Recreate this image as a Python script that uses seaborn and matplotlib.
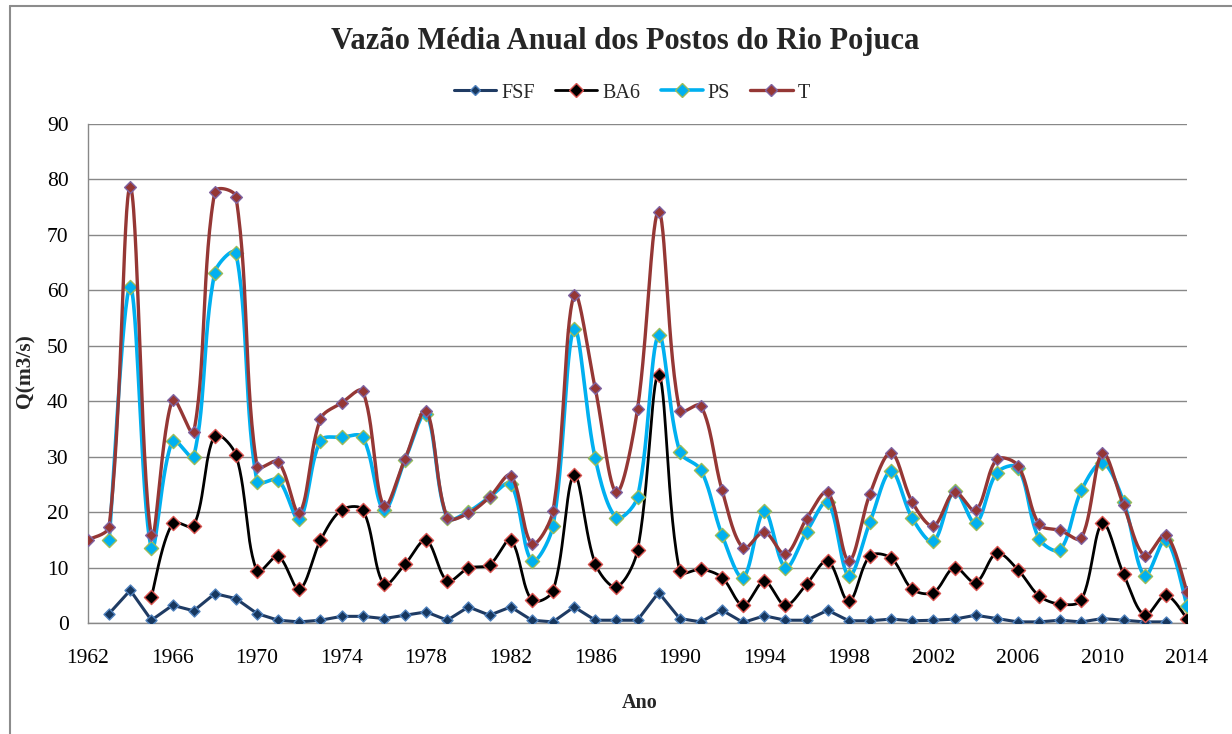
import numpy as np
import pandas as pd
import matplotlib
matplotlib.use("Agg")
import matplotlib.pyplot as plt
from matplotlib.lines import Line2D
import seaborn as sns

# ---- data -------------------------------------------------------------
years = list(range(1962, 2015))
nan = np.nan

fsf = [nan, 1.7, 5.9, 0.5, 3.2, 2.2, 5.3, 4.4, 1.7, 0.5,
       0.2, 0.5, 1.2, 1.2, 0.8, 1.4, 2.0, 0.5, 2.9, 1.4,
       2.9, 0.5, 0.2, 2.9, 0.5, 0.5, 0.5, 5.5, 0.8, 0.2,
       2.3, 0.1, 1.3, 0.5, 0.5, 2.3, 0.4, 0.4, 0.7, 0.4,
       0.5, 0.7, 1.4, 0.8, 0.2, 0.2, 0.5, 0.2, 0.8, 0.5,
       0.2, 0.2, nan]

ba6 = [nan, nan, nan, 4.7, 18.0, 17.5, 33.8, 30.3, 9.3, 12.0,
       6.1, 14.9, 20.4, 20.4, 7.0, 10.6, 14.9, 7.6, 9.9, 10.5,
       14.9, 4.1, 5.8, 26.7, 10.7, 6.5, 13.1, 44.8, 9.3, 9.7,
       8.2, 3.2, 7.5, 3.2, 7.0, 11.2, 3.9, 12.1, 11.7, 6.1,
       5.5, 10.0, 7.3, 12.6, 9.6, 4.9, 3.4, 4.1, 18.0, 8.8,
       1.4, 5.0, 0.8]

ps = [nan, 14.9, 60.6, 13.5, 32.9, 30.0, 63.2, 66.7, 25.5, 25.8,
      18.7, 32.9, 33.5, 33.5, 20.4, 29.4, 37.7, 18.9, 20.1, 22.7,
      25.1, 11.2, 17.5, 53.0, 29.7, 19.0, 22.7, 51.9, 30.9, 27.6,
      15.9, 8.2, 20.2, 10.0, 16.4, 21.8, 8.5, 18.2, 27.4, 18.9,
      14.7, 23.8, 18.0, 27.1, 28.0, 15.2, 13.2, 23.9, 28.9, 21.9,
      8.5, 15.0, 3.1]

t = [15.0, 17.4, 78.6, 15.8, 40.3, 34.4, 77.8, 76.9, 28.2, 29.1,
     19.9, 36.8, 39.7, 41.8, 21.1, 29.6, 38.3, 19.0, 19.8, 22.7,
     26.6, 14.3, 20.2, 59.2, 42.3, 23.6, 38.6, 74.2, 38.3, 39.2,
     24.0, 13.5, 16.4, 12.4, 18.8, 23.6, 11.2, 23.3, 30.7, 21.8,
     17.5, 23.6, 20.3, 29.5, 28.4, 17.8, 16.7, 15.3, 30.6, 21.2,
     12.1, 15.9, 5.6]

series_names = ["FSF", "BA6", "PS", "T"]
x_ticks = list(range(1962, 2015, 4))
y_ticks = list(range(0, 91, 10))

# ---- styles -----------------------------------------------------------
styles = {
    "FSF": dict(line="#1F3B63", face="#17375E", edge="#4F81BD", lw=2.2, ms=5.6, smooth=False),
    "BA6": dict(line="#000000", face="#000000", edge="#D9534F", lw=2.0, ms=7.2, smooth=True),
    "PS":  dict(line="#00B0F0", face="#00B0F0", edge="#9BBB59", lw=2.6, ms=7.2, smooth=True),
    "T":   dict(line="#953735", face="#953735", edge="#8064A2", lw=2.4, ms=6.0, smooth=True),
}

sns.set_theme(style="white")
plt.rcParams["font.family"] = ["Liberation Serif", "DejaVu Serif"]

W, H, DPI = 1232, 734, 100
fig = plt.figure(figsize=(W / DPI, H / DPI), dpi=DPI)
L, R, T_, B = 88, 1187, 124, 623
ax = fig.add_axes([L / W, 1 - B / H, (R - L) / W, (B - T_) / H])
ax.set_xlim(1962, 2014)
ax.set_ylim(0, 90)

# pixel scale used for chord lengths of the smoothing curve
sx = (R - L) / 52.0
sy = (B - T_) / 90.0


def smooth_curve(xs, ys, n=30):
    """Bezier smoothing with chord-length-scaled tangents."""
    P = np.column_stack([np.asarray(xs) * sx, np.asarray(ys) * sy])
    m = len(P)
    if m < 3:
        return np.asarray(xs, float), np.asarray(ys, float)
    out = []
    for i in range(m - 1):
        p0 = P[i - 1] if i > 0 else P[i]
        p1, p2 = P[i], P[i + 1]
        p3 = P[i + 2] if i + 2 < m else P[i + 1]
        d01 = np.linalg.norm(p1 - p0)
        d12 = np.linalg.norm(p2 - p1)
        d23 = np.linalg.norm(p3 - p2)
        f1 = d12 / (d01 + d12) if d01 + d12 > 0 else 0.5
        f2 = d12 / (d12 + d23) if d12 + d23 > 0 else 0.5
        if i == 0:
            f1 = 0.5
        if i + 2 >= m:
            f2 = 0.5
        c1 = p1 + (p2 - p0) * f1 / 3.0
        c2 = p2 - (p3 - p1) * f2 / 3.0
        tt = np.linspace(0, 1, n, endpoint=(i == m - 2))[:, None]
        seg = ((1 - tt) ** 3) * p1 + 3 * ((1 - tt) ** 2) * tt * c1 \
            + 3 * (1 - tt) * tt ** 2 * c2 + tt ** 3 * p2
        out.append(seg)
    pts = np.vstack(out)
    return pts[:, 0] / sx, pts[:, 1] / sy


data = {"FSF": fsf, "BA6": ba6, "PS": ps, "T": t}
for k, name in enumerate(series_names):
    st = styles[name]
    df = pd.DataFrame({"Ano": years, "Q": data[name]}).dropna()
    if st["smooth"]:
        cx, cy = smooth_curve(df["Ano"].values, df["Q"].values)
    else:
        cx, cy = df["Ano"].values.astype(float), df["Q"].values
    curve = pd.DataFrame({"Ano": cx, "Q": cy})
    sns.lineplot(data=curve, x="Ano", y="Q", sort=False, estimator=None,
                 color=st["line"], lw=st["lw"], ax=ax, zorder=3 + 2 * k)
    sns.scatterplot(data=df, x="Ano", y="Q", marker="D", s=st["ms"] ** 2,
                    color=st["face"], edgecolor=st["edge"], linewidth=1.0,
                    ax=ax, zorder=4 + 2 * k)

# ---- axes styling -----------------------------------------------------
grid_c = "#888888"
ax.set_xticks(x_ticks)
ax.set_yticks(y_ticks)
ax.yaxis.grid(True, color=grid_c, lw=1.0)
ax.xaxis.grid(False)
for s in ["top", "right"]:
    ax.spines[s].set_visible(False)
for s in ["left", "bottom"]:
    ax.spines[s].set_color(grid_c)
    ax.spines[s].set_linewidth(1.0)
ax.tick_params(axis="both", which="major", direction="out", length=4,
               width=1.0, color=grid_c, labelsize=15.5, labelcolor="black")
ax.tick_params(axis="x", pad=15)
ax.tick_params(axis="y", pad=10)
ax.set_xlabel("")
ax.set_ylabel("")

fig.text(25 / W, 1 - 371 / H, "Q(m3/s)", rotation=90, ha="center", va="center",
         fontsize=15.5, fontweight="bold")
fig.text(640 / W, 1 - 703 / H, "Ano", ha="center", va="center",
         fontsize=14.5, fontweight="bold")
fig.text(625 / W, 1 - 42 / H, "Vazão Média Anual dos Postos do Rio Pojuca",
         ha="center", va="center", fontsize=22, fontweight="bold")

handles = [Line2D([], [], color=styles[n]["line"], lw=styles[n]["lw"], marker="D",
                  markersize=styles[n]["ms"], markerfacecolor=styles[n]["face"],
                  markeredgecolor=styles[n]["edge"], markeredgewidth=1.0)
           for n in series_names]
fig.legend(handles, series_names, loc="center", bbox_to_anchor=(632 / W, 1 - 93 / H),
           ncol=4, frameon=False, fontsize=14.5, handlelength=2.1, handletextpad=0.25,
           columnspacing=1.0)

# chart-area border
fig.add_artist(Line2D([10 / W, 1.0], [1 - 6 / H, 1 - 6 / H], transform=fig.transFigure,
                      color="#8C8C8C", lw=1.5))
fig.add_artist(Line2D([10 / W, 10 / W], [0.0, 1 - 6 / H], transform=fig.transFigure,
                      color="#8C8C8C", lw=1.5))

fig.savefig("out.png", dpi=DPI, facecolor="white")
